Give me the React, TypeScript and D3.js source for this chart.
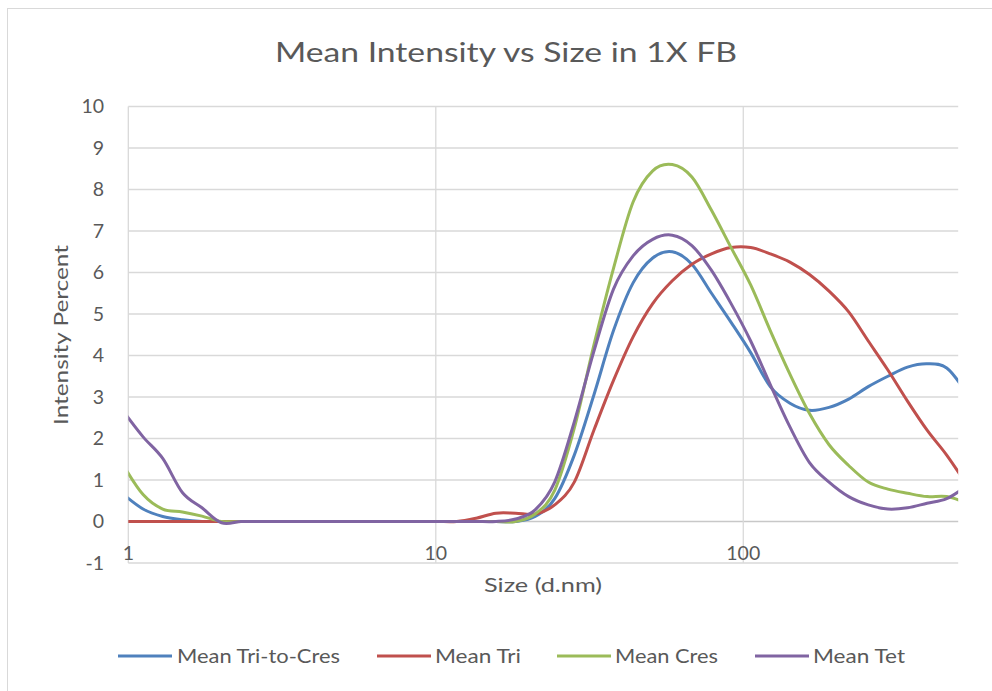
import React from "react";
import * as d3 from "d3";

const sizes = [0.9649, 1.117, 1.294, 1.499, 1.736, 2.01, 2.328, 2.696, 3.122, 3.615, 4.187, 4.849, 5.615, 6.503, 7.531, 8.721, 10.1, 11.7, 13.54, 15.69, 18.17, 21.04, 24.36, 28.21, 32.67, 37.84, 43.82, 50.75, 58.77, 68.06, 78.82, 91.28, 105.7, 122.4, 141.8, 164.2, 190.1, 220.2, 255.0, 295.3, 342.0, 396.1, 458.7, 531.2];

const triToCres = [0.65, 0.3, 0.12, 0.04, 0, 0, 0, 0, 0, 0, 0, 0, 0, 0, 0, 0, 0, 0, 0, 0, 0, 0.12, 0.55, 1.6, 3.05, 4.6, 5.75, 6.35, 6.5, 6.2, 5.5, 4.8, 4.07, 3.25, 2.85, 2.68, 2.75, 2.95, 3.25, 3.5, 3.72, 3.8, 3.7, 3.1];
const tri = [0, 0, 0, 0, 0, 0, 0, 0, 0, 0, 0, 0, 0, 0, 0, 0, 0, 0, 0.08, 0.2, 0.2, 0.18, 0.4, 0.95, 2.2, 3.4, 4.45, 5.25, 5.8, 6.2, 6.45, 6.6, 6.6, 6.45, 6.25, 5.95, 5.55, 5.05, 4.35, 3.65, 2.9, 2.2, 1.6, 0.9];
const cres = [1.35, 0.65, 0.3, 0.23, 0.13, 0, 0, 0, 0, 0, 0, 0, 0, 0, 0, 0, 0, 0, 0, 0, 0, 0.18, 0.75, 2.25, 4.25, 6.1, 7.7, 8.45, 8.6, 8.3, 7.5, 6.6, 5.7, 4.6, 3.55, 2.6, 1.85, 1.35, 0.95, 0.78, 0.68, 0.6, 0.6, 0.45];
const tet = [2.65, 2.04, 1.52, 0.7, 0.33, -0.03, 0, 0, 0, 0, 0, 0, 0, 0, 0, 0, 0, 0, 0, 0, 0.06, 0.28, 0.95, 2.4, 4.1, 5.6, 6.4, 6.8, 6.9, 6.65, 6.05, 5.25, 4.35, 3.3, 2.28, 1.42, 0.95, 0.6, 0.4, 0.3, 0.33, 0.44, 0.55, 0.85];

const seriesNames = ["Mean Tri-to-Cres", "Mean Tri", "Mean Cres", "Mean Tet"];
const seriesColors = ["#4F81BD", "#C0504D", "#9BBB59", "#8064A2"];
const seriesValues = [triToCres, tri, cres, tet];

const yTicks = [-1, 0, 1, 2, 3, 4, 5, 6, 7, 8, 9, 10];
const xTicks = [1, 10, 100];

const title = "Mean Intensity vs Size in 1X FB";
const xTitle = "Size (d.nm)";
const yTitle = "Intensity Percent";

export default function App() {
  const W = 992, H = 691;
  const left = 128.3, right = 958.2, top = 106.5, bottom = 563;
  const x = d3.scaleLog().domain([1, 500]).range([left, right]);
  const y = d3.scaleLinear().domain([-1, 10]).range([bottom, top]);
  const font = "Lato, 'Open Sans', sans-serif";
  const textColor = "#595959";

  const line = d3
    .line<number>()
    .x((_, i) => x(sizes[i]))
    .y((d) => y(d))
    .curve(d3.curveCardinal.tension(0));

  const legendItems = [
    { lx: 118, tx: 177, tw: 163 },
    { lx: 377, tx: 435, tw: 86 },
    { lx: 557, tx: 615, tw: 103 },
    { lx: 755, tx: 813, tw: 92 },
  ];

  return (
    <svg
      width={W}
      height={H}
      style={{ position: "absolute", left: 0, top: 0, background: "#fff" }}
      fontFamily={font}
    >
      <rect x={0} y={0} width={W} height={H} fill="#fff" />
      <rect x={7.5} y={8.5} width={1100} height={800} fill="none" stroke="#d9d9d9" strokeWidth={1} />
      <defs>
        <clipPath id="plotClip">
          <rect x={left} y={0} width={right - left} height={H} />
        </clipPath>
      </defs>
      <text x={506} y={62} textAnchor="middle" fontSize={27} fill={textColor} textLength={462} lengthAdjust="spacingAndGlyphs">
        {title}
      </text>
      {yTicks.map((t) => (
        <line key={"gy" + t} x1={left} x2={right} y1={y(t)} y2={y(t)} stroke={t === 0 ? "#c8c8c8" : "#d9d9d9"} strokeWidth={1.3} />
      ))}
      {xTicks.map((t) => (
        <line key={"gx" + t} x1={x(t)} x2={x(t)} y1={top} y2={bottom} stroke="#d9d9d9" strokeWidth={1.3} />
      ))}
      {yTicks.map((t) => (
        <text key={"ty" + t} x={104} y={y(t)} dy="0.35em" textAnchor="end" fontSize={19.5} fill={textColor}>
          {t}
        </text>
      ))}
      {xTicks.map((t) => (
        <text key={"tx" + t} x={x(t)} y={560} textAnchor="middle" fontSize={19.5} fill={textColor}>
          {t}
        </text>
      ))}
      <text x={543} y={592} textAnchor="middle" fontSize={20} fill={textColor} textLength={118} lengthAdjust="spacingAndGlyphs">
        {xTitle}
      </text>
      <text
        transform={`translate(68, 335) rotate(-90)`}
        textAnchor="middle"
        fontSize={20}
        fill={textColor}
        textLength={180}
        lengthAdjust="spacingAndGlyphs"
      >
        {yTitle}
      </text>
      <g clipPath="url(#plotClip)">
        {seriesValues.map((vals, i) => (
          <path key={"s" + i} d={line(vals) || ""} fill="none" stroke={seriesColors[i]} strokeWidth={3} strokeLinejoin="round" />
        ))}
      </g>
      {legendItems.map((it, i) => (
        <g key={"lg" + i}>
          <line x1={it.lx} x2={it.lx + 54} y1={656} y2={656} stroke={seriesColors[i]} strokeWidth={3} />
          <text x={it.tx} y={663} fontSize={20} fill={textColor} textLength={it.tw} lengthAdjust="spacingAndGlyphs">
            {seriesNames[i]}
          </text>
        </g>
      ))}
    </svg>
  );
}
